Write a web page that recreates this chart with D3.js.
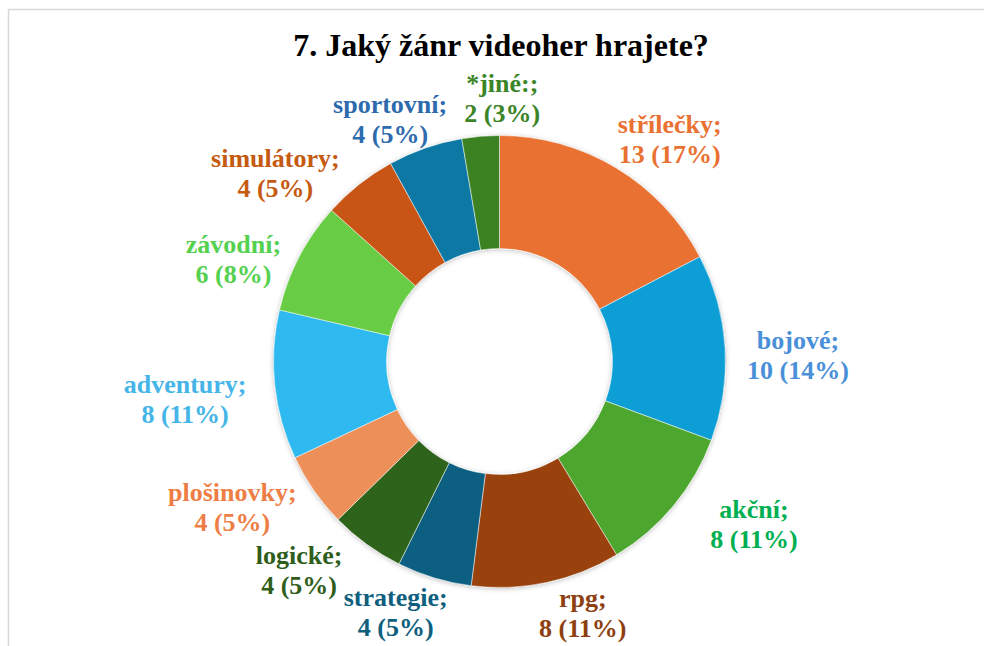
<html>
<head>
<meta charset="utf-8">
<style>
  body{margin:0;background:#fff}
</style>
</head>
<body>
<div id="chart"></div>
<script src="https://cdn.jsdelivr.net/npm/d3@7"></script>
<script>
(function () {

  // data
  var genres  = ['střílečky', 'bojové', 'akční', 'rpg', 'strategie', 'logické',
                 'plošinovky', 'adventury', 'závodní', 'simulátory', 'sportovní', '*jiné:'];
  var counts  = [13, 10, 8, 8, 4, 4, 4, 8, 6, 4, 4, 2];
  var percents = ['17%', '14%', '11%', '11%', '5%', '5%', '5%', '11%', '8%', '5%', '5%', '3%'];

  // styles
  var sliceColors = ['#E97132', '#0F9ED5', '#4EA72E', '#994210', '#095F81', '#2F641B',
                     '#ED8F59', '#2DB9F0', '#69CC45', '#C85517', '#0C78A4', '#3D8224'];
  var labelColors = ['#E97132', '#4A90D8', '#00B050', '#8E3F12', '#0E5E7E', '#2F5E1C',
                     '#EE7E45', '#45B5E8', '#55D150', '#C55A11', '#2D6BAE', '#3B8527'];
  // manual label nudges (px) from the label ring
  var nudgeX = [20, 9, 31, 23, -20, -30, -29, -26, -9, -44, -14, 27];
  var nudgeY = [27, 13, -21, -31, -26, -25, -19, 8, 33, 40, 32, 26];

  var
    FONT   = "'Liberation Serif', 'Times New Roman', Tinos, serif",
    width  = 984,
    height = 646,
    cx     = 499.5,
    cy     = 361.5,
    outerR = 226,
    innerR = 113,
    labelR = 290;

  var svg = d3.select('#chart').append('svg')
    .attr('width', width)
    .attr('height', height)
    .style('font-family', FONT)
    .style('font-weight', 'bold');

  var defs = svg.append('defs');
  defs.append('filter')
    .attr('id', 'soft')
    .attr('x', '-20%').attr('y', '-20%')
    .attr('width', '140%').attr('height', '140%')
    .append('feDropShadow')
    .attr('dx', 0).attr('dy', 1)
    .attr('stdDeviation', 2.5)
    .attr('flood-color', '#000')
    .attr('flood-opacity', 0.25);

  // chart frame
  svg.append('rect')
    .attr('x', 8.5).attr('y', 9.5)
    .attr('width', width).attr('height', height)
    .attr('fill', '#fff')
    .attr('stroke', '#d9d9d9')
    .attr('stroke-width', 1.5);

  svg.append('text')
    .attr('x', 501).attr('y', 56)
    .attr('text-anchor', 'middle')
    .attr('font-family', FONT)
    .attr('font-weight', 'bold')
    .attr('font-size', 32)
    .attr('fill', '#000')
    .text('7. Jaký žánr videoher hrajete?');

  var pie = d3.pie().sort(null).value(function (d) { return d; });
  var arcs = pie(counts);

  var arc = d3.arc().innerRadius(innerR).outerRadius(outerR);
  var ring = d3.arc().innerRadius(labelR).outerRadius(labelR);

  var g = svg.append('g').attr('transform', 'translate(' + cx + ',' + cy + ')');

  g.append('g')
    .attr('filter', 'url(#soft)')
    .selectAll('path')
    .data(arcs)
    .join('path')
    .attr('d', arc)
    .attr('fill', function (d, i) { return sliceColors[i]; })
    .attr('stroke', '#fff')
    .attr('stroke-width', 0.5);

  var labels = g.append('g')
    .selectAll('text')
    .data(arcs)
    .join('text')
    .attr('text-anchor', 'middle')
    .attr('font-family', FONT)
    .attr('font-weight', 'bold')
    .attr('font-size', 26)
    .attr('fill', function (d, i) { return labelColors[i]; })
    .attr('transform', function (d, i) {
      var p = ring.centroid(d);
      return 'translate(' + (p[0] + nudgeX[i]) + ',' + (p[1] + nudgeY[i]) + ')';
    });

  labels.append('tspan')
    .attr('x', 0).attr('y', -7)
    .text(function (d, i) { return genres[i] + ';'; });

  labels.append('tspan')
    .attr('x', 0).attr('y', 23)
    .text(function (d, i) { return counts[i] + ' (' + percents[i] + ')'; });

})();
</script>
</body>
</html>
